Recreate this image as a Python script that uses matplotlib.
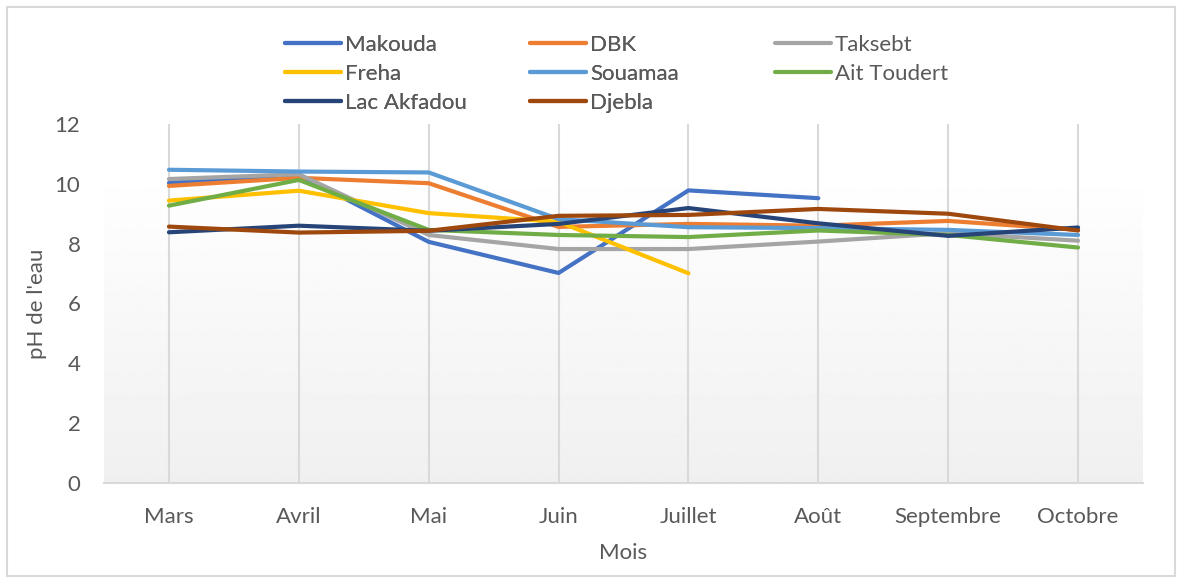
import numpy as np
import matplotlib.pyplot as plt
from matplotlib.patches import Rectangle

plt.rcParams['font.family'] = ['Lato', 'DejaVu Sans']

mois = ['Mars', 'Avril', 'Mai', 'Juin', 'Juillet', 'Août', 'Septembre', 'Octobre']

makouda = [10.03, 10.3, 8.06, 7.02, 9.78, 9.52, None, None]
dbk = [9.93, 10.2, 10.02, 8.56, 8.66, 8.6, 8.76, 8.46]
taksebt = [10.16, 10.32, 8.29, 7.82, 7.82, 8.07, 8.35, 8.1]
freha = [9.44, 9.77, 9.02, 8.73, 7.01, None, None, None]
souamaa = [10.47, 10.41, 10.38, 8.82, 8.55, 8.52, 8.46, 8.29]
ait_toudert = [9.27, 10.13, 8.46, 8.29, 8.22, 8.44, 8.29, 7.87]
lac_akfadou = [8.38, 8.6, 8.43, 8.66, 9.19, 8.68, 8.26, 8.54]
djebla = [8.57, 8.37, 8.43, 8.93, 8.96, 9.16, 9.0, 8.44]

series = [
    ('Makouda', makouda, '#4472C4'),
    ('DBK', dbk, '#ED7D31'),
    ('Taksebt', taksebt, '#A5A5A5'),
    ('Freha', freha, '#FFC000'),
    ('Souamaa', souamaa, '#5B9BD5'),
    ('Ait Toudert', ait_toudert, '#70AD47'),
    ('Lac Akfadou', lac_akfadou, '#264478'),
    ('Djebla', djebla, '#9E480E'),
]

txt = '#595959'
fs = 16

fig = plt.figure(figsize=(11.82, 5.81), dpi=100)
ax = fig.add_axes([0.088, 0.1687, 0.879, 0.6179])

# outer chart frame
fig.patches.append(Rectangle((0.006, 0.008), 0.988, 0.98, transform=fig.transFigure,
                             fill=False, edgecolor='#d9d9d9', linewidth=1.5))

x = np.arange(len(mois))

# plot area gradient, white at top to light grey at bottom
grad = np.linspace(0.94, 1.0, 256).reshape(-1, 1)
ax.imshow(grad, extent=[-0.5, len(mois) - 0.5, 0, 10.5], origin='lower',
          cmap='gray', vmin=0, vmax=1, aspect='auto', zorder=0)

for xi in x:
    ax.axvline(xi, color='#d9d9d9', linewidth=1.5, zorder=1)

lines = []
for name, vals, col in series:
    y = np.array([np.nan if v is None else v for v in vals], dtype=float)
    ln, = ax.plot(x, y, color=col, linewidth=3, label=name, solid_capstyle='round', zorder=3)
    lines.append(ln)

ax.set_xlim(-0.5, len(mois) - 0.5)
ax.set_ylim(0, 12)
ax.set_yticks(range(0, 13, 2))
ax.set_xticks(x)
ax.set_xticklabels(mois)
ax.tick_params(length=0, labelsize=fs, labelcolor=txt)
ax.tick_params(axis='x', pad=17)
ax.tick_params(axis='y', pad=17)
for side in ['top', 'right', 'left']:
    ax.spines[side].set_visible(False)
ax.spines['bottom'].set_color('#d9d9d9')
ax.spines['bottom'].set_linewidth(1.5)

ax.set_xlabel('Mois', fontsize=fs, color=txt, labelpad=12)
ax.set_ylabel("pH de l'eau", fontsize=fs, color=txt)
ax.yaxis.set_label_coords(-0.055, 0.5)

# legend laid out row by row: one legend per column
col_x = [285, 530, 775]
for c in range(3):
    hs = lines[c::3]
    leg = fig.legend(handles=hs, loc='upper left',
                     bbox_to_anchor=(col_x[c] / 1182, 1 - 35 / 581),
                     frameon=False, fontsize=fs, labelcolor=txt,
                     handlelength=2.5, handletextpad=0.2, labelspacing=0.4,
                     borderaxespad=0, borderpad=0)
    if c < 2:
        fig.add_artist(leg)

fig.savefig('out.png', dpi=100)
